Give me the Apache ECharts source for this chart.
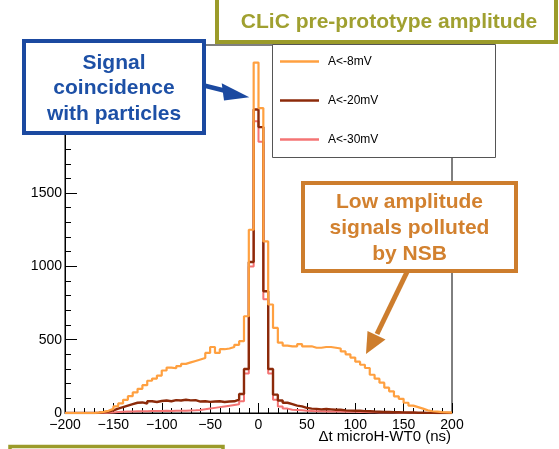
<!DOCTYPE html>
<html><head><meta charset="utf-8">
<script src="https://cdn.jsdelivr.net/npm/echarts@6/dist/echarts.min.js"></script>
<style>html,body{margin:0;padding:0;background:#fff}#c{width:559px;height:449px}</style>
</head><body><div id="c"></div>
<script>
// Histogram binning: 80 bins of 5 ns from -200 to 200
const binLow = -200;
const binWidth = 5;
const seriesNames = ['A<-8mV', 'A<-20mV', 'A<-30mV'];
// bin contents, bins starting at -200, -195, ... 195
const countsA8 = [
  0, 0, 0, 0, 0, 0, 3, 8, 15, 28,
  45, 65, 90, 115, 140, 165, 190, 220, 235, 255,
  290, 310, 305, 320, 335, 345, 355, 365, 375, 410,
  450, 410, 435, 440, 450, 465, 490, 660, 1250, 2390,
  2080, 1170, 740, 580, 480, 460, 455, 455, 470, 455,
  455, 445, 445, 450, 450, 445, 440, 420, 400, 378,
  350, 329, 307, 261, 234, 207, 173, 148, 114, 97,
  70, 50, 40, 30, 18, 12, 10, 6, 4, 2
];
const countsA20 = [
  0, 0, 0, 0, 0, 0, 2, 5, 10, 18,
  30, 40, 50, 60, 70, 72, 65, 80, 75, 82,
  85, 80, 88, 85, 90, 86, 88, 78, 80, 76,
  78, 80, 75, 78, 80, 92, 130, 300, 1030, 2070,
  1950, 830, 300, 125, 85, 70, 60, 50, 45, 35,
  30, 28, 25, 27, 25, 22, 22, 18, 16, 15,
  15, 13, 12, 10, 9, 8, 7, 6, 5, 4,
  3, 3, 2, 2, 1, 1, 0, 0, 0, 0
];
const countsA30 = [
  0, 0, 0, 0, 0, 0, 0, 0, 2, 4,
  6, 8, 10, 10, 12, 12, 12, 14, 13, 14,
  15, 14, 15, 16, 15, 17, 18, 20, 25, 30,
  35, 40, 45, 50, 55, 60, 80, 270, 1000, 1990,
  1850, 775, 270, 90, 45, 30, 22, 20, 18, 15,
  14, 12, 12, 11, 11, 10, 10, 9, 8, 8,
  7, 6, 5, 5, 4, 4, 3, 3, 2, 2,
  1, 1, 0, 0, 0, 0, 0, 0, 0, 0
];
const xTickValues = [-200, -150, -100, -50, 0, 50, 100, 150, 200];
const yTickValues = [0, 500, 1000, 1500, 2000, 2500];

function stepData(vals) {
  const d = vals.map((v, i) => [binLow + i * binWidth, v]);
  d.push([binLow + vals.length * binWidth, vals[vals.length - 1]]);
  return d;
}

const FONT = '"Liberation Sans", Arial, Helvetica, sans-serif';
const OLIVE = '#9b9b2a';
const BLUE = '#1b49a0';
const ORANGE_BOX = '#cd7d2d';
const cOrange = '#ffa040', cDark = '#8c2a0a', cPink = '#f47474';

const chart = echarts.init(document.getElementById('c'), null, {renderer: 'canvas'});
chart.setOption({
  animation: false,
  backgroundColor: '#fff',
  grid: {left: 65, right: 107, top: 45, bottom: 36, show: true, borderColor: '#000', borderWidth: 1, backgroundColor: 'transparent'},
  legend: {
    data: seriesNames, orient: 'vertical', left: 280, top: 54.5, itemGap: 25, padding: 0,
    icon: 'rect', itemWidth: 39, itemHeight: 2.5, z: 6,
    textStyle: {fontSize: 12, color: '#000', fontFamily: FONT, lineHeight: 14, padding: [0, 0, 0, 4]},
    selectedMode: false
  },
  xAxis: {
    type: 'value', min: -200, max: 200, interval: 50,
    axisLine: {show: true, onZero: false, lineStyle: {color: '#000', width: 1}},
    axisTick: {show: true, inside: true, length: 10, lineStyle: {color: '#000', width: 1}},
    minorTick: {show: true, splitNumber: 5, length: 5, lineStyle: {color: '#000', width: 1}},
    splitLine: {show: false},
    axisLabel: {color: '#000', fontSize: 14, fontFamily: FONT, margin: 5, showMinLabel: true, showMaxLabel: true,
      formatter: v => xTickValues.includes(v) ? String(v).replace('-', '\u2212') : ''}
  },
  yAxis: {
    type: 'value', min: 0, max: 2510, interval: 500,
    axisLine: {show: true, onZero: false, lineStyle: {color: '#000', width: 1}},
    axisTick: {show: true, inside: true, length: 12, lineStyle: {color: '#000', width: 1}},
    minorTick: {show: true, splitNumber: 5, length: 6, lineStyle: {color: '#000', width: 1}},
    splitLine: {show: false},
    axisLabel: {color: '#000', fontSize: 14, fontFamily: FONT, margin: 3,
      formatter: v => yTickValues.includes(v) ? String(v) : ''}
  },
  series: [
    {name: seriesNames[2], type: 'line', step: 'end', data: stepData(countsA30), showSymbol: false, symbol: 'none',
      color: cPink, lineStyle: {color: cPink, width: 2}, z: 2},
    {name: seriesNames[1], type: 'line', step: 'end', data: stepData(countsA20), showSymbol: false, symbol: 'none',
      color: cDark, lineStyle: {color: cDark, width: 2.4}, z: 3},
    {name: seriesNames[0], type: 'line', step: 'end', data: stepData(countsA8), showSymbol: false, symbol: 'none',
      color: cOrange, lineStyle: {color: cOrange, width: 2.2}, z: 4}
  ],
  graphic: [
    // legend frame
    {type: 'rect', z: 5, shape: {x: 272.5, y: 44.5, width: 223, height: 113}, style: {fill: '#fff', stroke: '#555', lineWidth: 1}},
    // title box
    {type: 'rect', z: 100, shape: {x: 217, y: -3, width: 339, height: 45}, style: {fill: '#fff', stroke: OLIVE, lineWidth: 4}},
    {type: 'text', z: 101, x: 389, y: 22, style: {text: 'CLiC pre-prototype amplitude', fill: '#a0a030', font: 'bold 21px ' + FONT,
      textAlign: 'center', textVerticalAlign: 'middle', align: 'center', verticalAlign: 'middle'}},
    // blue annotation
    {type: 'rect', z: 100, shape: {x: 24, y: 41, width: 180, height: 92}, style: {fill: '#fff', stroke: BLUE, lineWidth: 4}},
    {type: 'text', z: 101, x: 114, y: 88.5, style: {text: 'Signal\ncoincidence\nwith particles', fill: '#1d50a6', font: 'bold 21px ' + FONT,
      lineHeight: 25.5, textAlign: 'center', textVerticalAlign: 'middle', align: 'center', verticalAlign: 'middle'}},
    {type: 'polyline', z: 100, shape: {points: [[204, 85.5], [226, 91]]}, style: {stroke: BLUE, lineWidth: 4.5}},
    {type: 'polygon', z: 100, shape: {points: [[221.7, 83.3], [249.3, 97.3], [224, 100.5]]}, style: {fill: BLUE}},
    // orange annotation
    {type: 'rect', z: 100, shape: {x: 303, y: 183, width: 213, height: 88}, style: {fill: '#fff', stroke: ORANGE_BOX, lineWidth: 4}},
    {type: 'text', z: 101, x: 409.5, y: 228.5, style: {text: 'Low amplitude\nsignals polluted\nby NSB', fill: '#d2812f', font: 'bold 21px ' + FONT,
      lineHeight: 26, textAlign: 'center', textVerticalAlign: 'middle', align: 'center', verticalAlign: 'middle'}},
    {type: 'polyline', z: 100, shape: {points: [[407, 272], [377, 334]]}, style: {stroke: ORANGE_BOX, lineWidth: 5}},
    {type: 'polygon', z: 100, shape: {points: [[367.5, 331], [366, 354], [385.5, 339.5]]}, style: {fill: ORANGE_BOX}},
    // bottom olive box edge
    {type: 'rect', z: 100, shape: {x: 10, y: 446.5, width: 213, height: 20}, style: {fill: '#fff', stroke: OLIVE, lineWidth: 3.5}},
    // axis title
    {type: 'text', z: 50, x: 451, y: 437, style: {text: '\u0394t microH-WT0 (ns)', fill: '#000', font: '15px ' + FONT,
      textAlign: 'right', textVerticalAlign: 'middle', align: 'right', verticalAlign: 'middle'}}
  ]
});
</script></body></html>
